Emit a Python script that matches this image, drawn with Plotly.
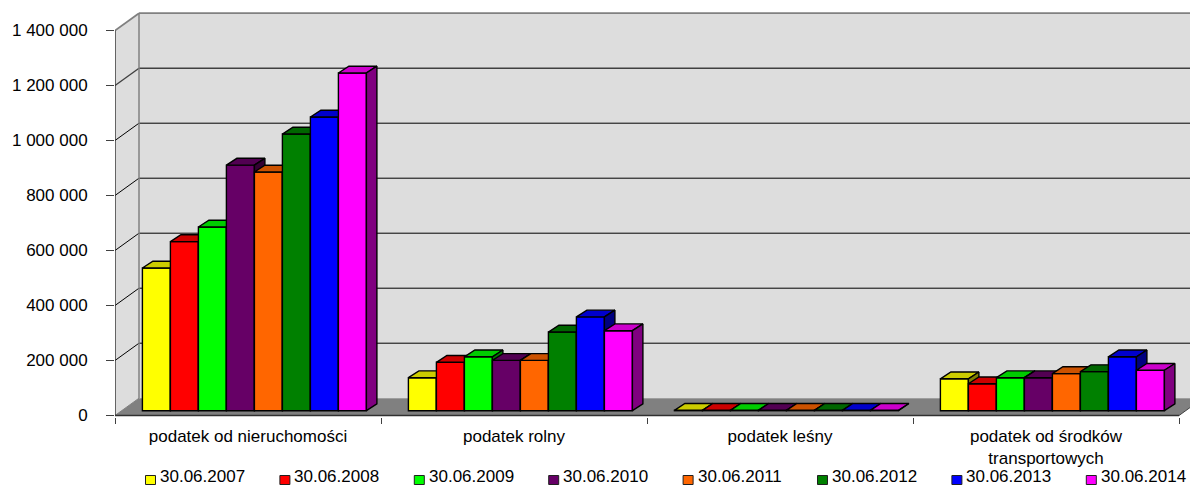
import plotly.graph_objects as go

categories = ["podatek od nieruchomości", "podatek rolny", "podatek leśny", "podatek od środków<br>transportowych"]
dates = ["30.06.2007", "30.06.2008", "30.06.2009", "30.06.2010", "30.06.2011", "30.06.2012", "30.06.2013", "30.06.2014"]
v2007 = [519000, 120000, 1500, 116000]
v2008 = [615000, 176000, 1500, 98000]
v2009 = [668000, 196000, 1500, 120000]
v2010 = [893000, 183000, 1500, 120000]
v2011 = [868000, 183000, 1500, 135000]
v2012 = [1006000, 286000, 1500, 142000]
v2013 = [1068000, 341000, 1500, 196000]
v2014 = [1228000, 291000, 1500, 147000]
series = [v2007, v2008, v2009, v2010, v2011, v2012, v2013, v2014]
y_ticks = [0, 200000, 400000, 600000, 800000, 1000000, 1200000, 1400000]
y_labels = ["0", "200 000", "400 000", "600 000", "800 000", "1 000 000", "1 200 000", "1 400 000"]
front = ["#FFFF00", "#FF0000", "#00FF00", "#660066", "#FF6600", "#008000", "#0000FF", "#FF00FF"]
top = ["#CCCC00", "#CC0000", "#00CC00", "#520052", "#CC5200", "#006600", "#0000CC", "#CC00CC"]
side = ["#808000", "#800000", "#008000", "#330033", "#803300", "#004000", "#000080", "#800080"]
grid_colors = ["#000000", "#000000", "#000000", "#000000", "#000000", "#000000", "#404040", "#808080"]

W, H = 1190, 486
L, AX_R, Y0, TOP_PX = 115, 1179, 415.5, 4
BOTTOM_PX = Y0 + 1.5
PX_X = (AX_R - L) / 4          # px per category
PX_Y = 55 / 200000             # px per value
ux = lambda px: px / PX_X
uy = lambda px: px / PX_Y
x_range = [0, ux(W - L)]
y_range = [-uy(BOTTOM_PX - Y0), uy(Y0 - TOP_PX)]
WALL_DX, WALL_DY = ux(24), uy(17.3)
BAR_W, BAR_DX, BAR_DY = ux(28), ux(10.5), uy(6.8)
BAR_X0, BAR_Y0 = ux(27.4), uy(4.8)


def paper_x(px):
    return (px - L) / (W - L)


def paper_y(py):
    return (BOTTOM_PX - py) / (BOTTOM_PX - TOP_PX)


shapes = []
wall = "#DDDDDD"
n = len(categories)
ymax = y_ticks[-1]
shapes.append(dict(type="path", layer="below", xref="x", yref="y",
                   path=f"M0,0 L{WALL_DX},{WALL_DY} L{WALL_DX},{ymax + WALL_DY} L0,{ymax} Z",
                   fillcolor=wall, line=dict(width=0)))
shapes.append(dict(type="rect", layer="below", xref="x", yref="y", x0=WALL_DX, x1=x_range[1],
                   y0=WALL_DY, y1=ymax + WALL_DY, fillcolor=wall, line=dict(width=0)))
shapes.append(dict(type="path", layer="below", xref="x", yref="y",
                   path=f"M0,0 L{WALL_DX},{WALL_DY} L{n + WALL_DX},{WALL_DY} L{n},0 Z",
                   fillcolor="#808080", line=dict(width=0)))
for t, c in zip(y_ticks[1:], grid_colors[1:]):
    w = 1.8 if t == ymax else (1.4 if t == 1200000 else 1)
    shapes.append(dict(type="line", layer="below", xref="x", yref="y", x0=0, x1=WALL_DX, y0=t, y1=t + WALL_DY,
                       line=dict(color=c, width=w)))
    shapes.append(dict(type="line", layer="below", xref="x", yref="y", x0=WALL_DX, x1=x_range[1],
                       y0=t + WALL_DY, y1=t + WALL_DY, line=dict(color=c, width=w)))
shapes.append(dict(type="line", layer="below", xref="x", yref="y", x0=WALL_DX, x1=WALL_DX, y0=WALL_DY,
                   y1=ymax + WALL_DY, line=dict(color="#808080", width=1.5)))
shapes.append(dict(type="line", layer="below", xref="x", yref="y", x0=0, x1=WALL_DX, y0=0, y1=WALL_DY,
                   line=dict(color="#808080", width=1)))
shapes.append(dict(type="line", layer="below", xref="x", yref="y", x0=0, x1=0, y0=0, y1=ymax,
                   line=dict(color="#303030", width=1.4)))
shapes.append(dict(type="line", layer="below", xref="x", yref="y", x0=0, x1=n, y0=0, y1=0,
                   line=dict(color="#303030", width=1.4)))
shapes.append(dict(type="line", layer="below", xref="x", yref="y", x0=n, x1=n + WALL_DX, y0=0, y1=WALL_DY,
                   line=dict(color="#404040", width=1)))

fig = go.Figure()
annotations = []
for i, name in enumerate(dates):
    vals = series[i]
    xs = [k + BAR_X0 + (i + 0.5) * BAR_W for k in range(n)]
    suffix = "" if i == 0 else str(i + 1)
    xa, ya = "x" + suffix, "y" + suffix
    fig.add_trace(go.Bar(x=xs, y=vals, base=[BAR_Y0] * n, width=BAR_W, name=name, xaxis=xa, yaxis=ya,
                         marker=dict(color=front[i], line=dict(color="#000000", width=1.4)), showlegend=False))
    tx, ty, sx, sy = [], [], [], []
    for xc, v in zip(xs, vals):
        x0, x1, yt, yb = xc - BAR_W / 2, xc + BAR_W / 2, BAR_Y0 + v, BAR_Y0
        tx += [x0, x1, x1 + BAR_DX, x0 + BAR_DX, x0, None]
        ty += [yt, yt, yt + BAR_DY, yt + BAR_DY, yt, None]
        sx += [x1, x1 + BAR_DX, x1 + BAR_DX, x1, x1, None]
        sy += [yb, yb + BAR_DY, yt + BAR_DY, yt, yb, None]
    for px_, py_, col in ((tx, ty, top[i]), (sx, sy, side[i])):
        fig.add_trace(go.Scatter(x=px_, y=py_, mode="lines", fill="toself", fillcolor=col, xaxis=xa, yaxis=ya,
                                 line=dict(color="#000000", width=1.4), showlegend=False, hoverinfo="skip"))
    # legend
    sw = 145.5 + i * 134.4
    shapes.append(dict(type="rect", xref="paper", yref="paper", x0=paper_x(sw), x1=paper_x(sw + 10),
                       y0=paper_y(484.5), y1=paper_y(475.5), fillcolor=front[i], line=dict(color="#202020", width=1)))
    annotations.append(dict(text=name, xref="paper", yref="paper", x=paper_x(sw + 12.5), y=paper_y(476.3),
                            xanchor="left", yanchor="middle", showarrow=False, font=dict(size=17)))

axis_common = dict(showgrid=False, zeroline=False, showline=False)
layout = dict(
    width=W, height=H, autosize=False, margin=dict(l=L, r=0, t=TOP_PX, b=H - BOTTOM_PX, pad=0),
    paper_bgcolor="white", plot_bgcolor="rgba(0,0,0,0)", barmode="overlay",
    font=dict(family="Liberation Sans, Arial, sans-serif", size=17, color="#000000"),
    shapes=shapes, annotations=annotations, showlegend=False,
    xaxis=dict(range=x_range, tickvals=[k + 0.5 for k in range(n)], ticktext=categories, ticks="",
               ticklabelstandoff=7,
               minor=dict(tickmode="array", tickvals=list(range(n + 1)), ticks="outside", ticklen=6, tickwidth=1.2,
                          tickcolor="#404040"), **axis_common),
    yaxis=dict(range=y_range, tickvals=y_ticks, ticktext=y_labels, ticks="outside", ticklen=8, tickwidth=1.2,
               tickcolor="#404040", ticklabelstandoff=15, **axis_common),
)
for i in range(2, len(dates) + 1):
    layout[f"xaxis{i}"] = dict(range=x_range, overlaying="x", visible=False, **axis_common)
    layout[f"yaxis{i}"] = dict(range=y_range, overlaying="y", visible=False, **axis_common)
fig.update_layout(**layout)
fig.write_html("out.html", post_script="document.body.style.margin='0';", config={"displayModeBar": False})
